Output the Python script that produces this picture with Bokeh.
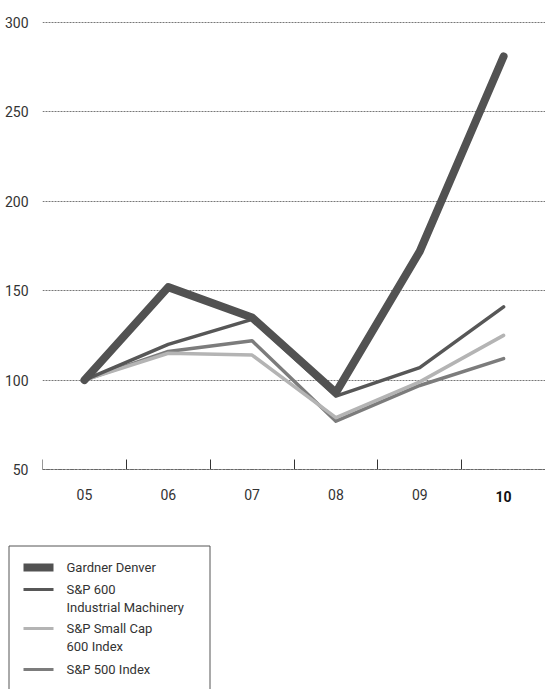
from bokeh.plotting import figure
from bokeh.models import Range1d, FixedTicker, Label, LinearAxis, Span
from bokeh.layouts import column
from bokeh.core.properties import value
from bokeh.embed import file_html
from bokeh.resources import INLINE

# ---- data ----
years = ["05", "06", "07", "08", "09", "10"]
gardner_denver = [100, 152, 135, 93, 172, 281]
sp600_industrial = [100, 120, 134, 91, 107, 141]
sp_smallcap600 = [100, 115, 114, 79, 99, 125]
sp500 = [100, 116, 122, 77, 97, 112]
y_ticks = [50, 100, 150, 200, 250, 300]

legend_labels = [["Gardner Denver"],
                 ["S&P 600", "Industrial Machinery"],
                 ["S&P Small Cap", "600 Index"],
                 ["S&P 500 Index"]]

FONT = "Roboto"
TXT = "#333333"
GRID = "#777777"

xs = [i + 0.5 for i in range(len(years))]

# 300 at 22px, 50 at 469px; frame extends from 16px down to 530px
Y_MIN, Y_MAX = 50, 300
px_per_unit = (469 - 22) / (Y_MAX - Y_MIN)
y_start = Y_MIN - (530 - 469) / px_per_unit
y_end = Y_MAX + 6 / px_per_unit

p = figure(width=545, height=530, x_range=Range1d(0, 6), y_range=Range1d(y_start, y_end),
           min_border_left=42, min_border_right=0, min_border_top=16, min_border_bottom=0,
           x_axis_location=None, output_backend="svg", toolbar_location=None,
           frame_align=False)
p.outline_line_color = None
p.background_fill_color = "white"
p.border_fill_color = "white"

# y axis
p.yaxis.ticker = FixedTicker(ticks=y_ticks)
p.yaxis.axis_line_color = None
p.yaxis.major_tick_line_color = None
p.yaxis.minor_tick_line_color = None
p.yaxis.major_label_standoff = 8
p.yaxis.major_label_text_font = FONT
p.yaxis.major_label_text_font_size = "14px"
p.yaxis.major_label_text_color = TXT

# x axis fixed at y=50: labels at centers, ticks at boundaries (minor ticks)
xax = LinearAxis(fixed_location=Y_MIN)
xax.ticker = FixedTicker(ticks=xs, minor_ticks=list(range(len(years))))
xax.major_label_overrides = {x: (y if y != years[-1] else "") for x, y in zip(xs, years)}
xax.axis_line_color = None
xax.major_tick_in = 0
xax.major_tick_out = 0
xax.minor_tick_in = 10
xax.minor_tick_out = 0
xax.minor_tick_line_color = "#333333"
xax.minor_tick_line_width = 1
xax.major_label_standoff = 19
xax.major_label_text_font = FONT
xax.major_label_text_font_size = "14px"
xax.major_label_text_color = TXT
p.add_layout(xax, "below")

p.xgrid.visible = False
p.ygrid.ticker = FixedTicker(ticks=y_ticks)
p.ygrid.grid_line_color = GRID
p.ygrid.grid_line_dash = "2 1"
p.ygrid.grid_line_width = 1

# dotted baseline at 50
p.add_layout(Span(location=Y_MIN, dimension="width", line_color="#666666",
                  line_dash="3 1", line_width=1.2, level="overlay"))

# bold last year label
p.add_layout(Label(x=xs[-1], y=Y_MIN - 27 / px_per_unit, text=years[-1], text_font=FONT,
                   text_font_size="14px", text_font_style="bold", text_color="#111111",
                   text_align="center", text_baseline="middle"))

series = [
    (sp500, "#7c7c7c", 3.5),
    (sp_smallcap600, "#b4b4b4", 3.5),
    (sp600_industrial, "#575757", 3.5),
    (gardner_denver, "#525252", 8),
]
for vals, col, w in series:
    p.line(xs, vals, line_color=col, line_width=w, line_join="round", line_cap="round")

# ---- legend panel ----
leg = figure(width=545, height=159, x_range=Range1d(0, 545), y_range=Range1d(159, 0),
             min_border=0, x_axis_location=None, y_axis_location=None,
             output_backend="svg", toolbar_location=None, frame_align=False)
leg.grid.visible = False
leg.outline_line_color = None
leg.border_fill_color = "white"

leg.quad(left=[8.5], right=[209.5], top=[15.5], bottom=[200], fill_color=None,
         line_color="#555555", line_width=1)

row_y = [37, 59, 98, 139]
line_gap = 17.5
sw_colors = ["#525252", "#575757", "#b4b4b4", "#7c7c7c"]
sw_widths = [8, 3, 3, 3]
leg.segment(x0=[23] * 4, x1=[53] * 4, y0=row_y, y1=row_y, line_color=sw_colors,
            line_width=sw_widths)

tx, ty, tt = [], [], []
for ry, lines in zip(row_y, legend_labels):
    for k, t in enumerate(lines):
        tx.append(66)
        ty.append(ry + k * line_gap)
        tt.append(t)
leg.text(x=tx, y=ty, text=tt, text_font=value(FONT), text_font_size="13px",
         text_color=TXT, text_baseline="middle", text_align="left")

layout = column(p, leg)
open("out.html", "w").write(file_html(layout, INLINE))
